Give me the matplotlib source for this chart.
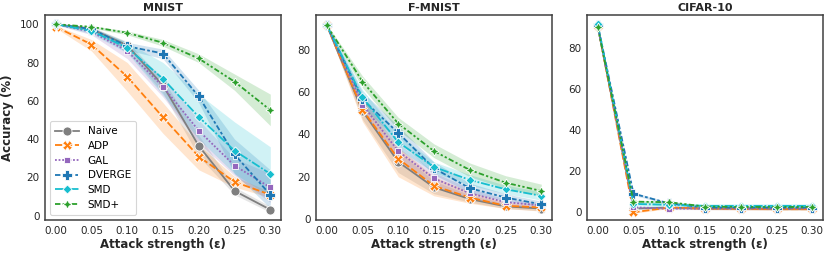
import matplotlib
matplotlib.use("Agg")
import matplotlib.pyplot as plt
import numpy as np

plt.rcParams['font.family'] = ['DejaVu Sans']

eps = [0.00, 0.05, 0.10, 0.15, 0.20, 0.25, 0.30]
methods = ["Naive", "ADP", "GAL", "DVERGE", "SMD", "SMD+"]
colors = {"Naive": "#7f7f7f", "ADP": "#ff7f0e", "GAL": "#9467bd",
          "DVERGE": "#1f77b4", "SMD": "#17becf", "SMD+": "#2ca02c"}
markers = {"Naive": "o", "ADP": "X", "GAL": (4, 0, 45), "DVERGE": "P",
           "SMD": (4, 0, 0), "SMD+": (4, 1, 0)}
dashes = {"Naive": (None, None), "ADP": (4, 1.5), "GAL": (1, 1),
          "DVERGE": (3, 1.25, 1.5, 1.25), "SMD": (5, 1, 1, 1),
          "SMD+": (3, 1.25, 1.25, 1.25, 1.25, 1.25)}

# ---------------- MNIST ----------------
mnist_mean = {
    "Naive":  [100, 97.5, 89, 68, 36.5, 13, 3.2],
    "ADP":    [98.7, 89.4, 72.6, 51.4, 30.9, 17.7, 11],
    "GAL":    [100, 96, 86, 67.4, 44.4, 26.2, 14.8],
    "DVERGE": [100, 97.5, 88.5, 84.7, 62.3, 32, 11],
    "SMD":    [100, 96.5, 87.7, 71.5, 51.6, 34, 21.9],
    "SMD+":   [100, 98.6, 95.5, 90.3, 82.1, 70, 55.2],
}
mnist_lo = {
    "Naive":  [99.5, 96.5, 86, 64, 31, 11, 1.8],
    "ADP":    [98, 86, 65, 43, 24, 15, 9.5],
    "GAL":    [99.7, 94.5, 82, 62, 38, 21, 7],
    "DVERGE": [99.8, 96.5, 86.5, 82, 59, 22, 4],
    "SMD":    [99.8, 95, 85, 63, 40, 22, 10],
    "SMD+":   [99.9, 98, 94.5, 88.5, 80, 65.5, 47],
}
mnist_hi = {
    "Naive":  [100, 98.5, 91, 71, 42, 15, 5],
    "ADP":    [99.3, 92, 80, 59, 37, 20.5, 12.5],
    "GAL":    [100, 97.5, 89, 72, 50, 30, 22],
    "DVERGE": [100, 98.5, 90.5, 87, 65.5, 40, 24],
    "SMD":    [100, 98, 90.5, 80, 63.5, 49, 36],
    "SMD+":   [100, 99.2, 96.5, 92, 84.5, 74, 63.5],
}

# ---------------- F-MNIST ----------------
fmnist_mean = {
    "Naive":  [91.5, 51, 27, 15, 9.5, 6, 5],
    "ADP":    [91.5, 51.6, 28.5, 15.7, 10.2, 6.3, 5.5],
    "GAL":    [91.5, 54, 32.1, 19.2, 12.2, 8, 6.5],
    "DVERGE": [91.5, 56.5, 40.7, 24, 14.6, 10.2, 7],
    "SMD":    [91.5, 57.4, 36.3, 24.6, 18.5, 14.1, 11],
    "SMD+":   [91.5, 64.9, 45.1, 32.1, 23.2, 17.2, 13.3],
}
fmnist_lo = {
    "Naive":  [91, 47, 22, 12, 8, 5, 4],
    "ADP":    [91, 46, 20, 11, 7.5, 5, 3.8],
    "GAL":    [91, 50, 28, 16, 10, 6.5, 5],
    "DVERGE": [91, 53, 37, 21, 12.5, 8.5, 6],
    "SMD":    [91, 54, 33, 22, 16, 12, 9],
    "SMD+":   [91, 62, 42, 29, 20, 14.5, 11],
}
fmnist_hi = {
    "Naive":  [92, 55, 32, 18, 11.5, 7.5, 6],
    "ADP":    [92, 57, 34, 20, 13, 8, 7],
    "GAL":    [92, 58, 36, 22, 14.5, 9.5, 8],
    "DVERGE": [92, 60, 44, 27, 17, 12, 8.5],
    "SMD":    [92, 61, 40, 27, 21, 16, 13],
    "SMD+":   [92, 67.5, 48, 35.5, 26.5, 20.5, 16.5],
}

# ---------------- CIFAR-10 ----------------
cifar_mean = {
    "Naive":  [91, 1.5, 2, 1.5, 1.5, 1.3, 1.3],
    "ADP":    [91, -0.3, 2, 1.5, 1.3, 1.2, 1.2],
    "GAL":    [91, 2.1, 1.5, 1.5, 1.5, 1.5, 1.5],
    "DVERGE": [91.5, 8.8, 4, 2, 2, 2, 2],
    "SMD":    [91.8, 3.8, 3.3, 2.8, 2.8, 2.8, 2.8],
    "SMD+":   [90.5, 4.9, 4.6, 2.5, 2.3, 2.3, 2.3],
}
cifar_lo = {
    "Naive":  [90.5, 1, 1.5, 1, 1, 0.8, 0.8],
    "ADP":    [90.5, -0.8, 1.5, 1, 0.8, 0.7, 0.7],
    "GAL":    [90.5, 1.5, 1, 1, 1, 1, 1],
    "DVERGE": [91, 8, 3.5, 1.5, 1.5, 1.5, 1.5],
    "SMD":    [91.3, 2.8, 2.3, 1.8, 1.8, 1.8, 1.8],
    "SMD+":   [90, 4.3, 4, 2, 1.8, 1.8, 1.8],
}
cifar_hi = {
    "Naive":  [91.5, 2, 2.5, 2, 2, 1.8, 1.8],
    "ADP":    [91.5, 0.2, 2.5, 2, 1.8, 1.7, 1.7],
    "GAL":    [91.5, 2.7, 2, 2, 2, 2, 2],
    "DVERGE": [92, 9.6, 4.5, 2.5, 2.5, 2.5, 2.5],
    "SMD":    [92.3, 4.8, 4.3, 3.8, 3.8, 3.8, 3.8],
    "SMD+":   [91, 5.5, 5.2, 3, 2.8, 2.8, 2.8],
}

titles = ["MNIST", "F-MNIST", "CIFAR-10"]
means = [mnist_mean, fmnist_mean, cifar_mean]
los = [mnist_lo, fmnist_lo, cifar_lo]
his = [mnist_hi, fmnist_hi, cifar_hi]
ylims = [(-2.2, 104.8), (-0.4, 96.3), (-4.1, 96.3)]
yticks = [[0, 20, 40, 60, 80, 100], [0, 20, 40, 60, 80], [0, 20, 40, 60, 80]]

W, H = 824, 256
fig = plt.figure(figsize=(W / 100, H / 100), dpi=100)
lefts = [45, 316, 587]
axw = 236
bottom, top = 220, 15

for i in range(3):
    ax = fig.add_axes([lefts[i] / W, 1 - bottom / H, axw / W, (bottom - top) / H])
    for m in methods:
        c = colors[m]
        ax.fill_between(eps, los[i][m], his[i][m], color=c, alpha=0.2, lw=0)
        ln, = ax.plot(eps, means[i][m], color=c, lw=1.3, marker=markers[m],
                      markersize=6.5, markeredgecolor="white", markeredgewidth=0.6,
                      label=m)
        if dashes[m][0] is not None:
            ln.set_dashes(dashes[m])
    ax.set_xlim(-0.015, 0.315)
    ax.set_ylim(*ylims[i])
    ax.set_xticks(eps)
    ax.set_xticklabels([f"{e:.2f}" for e in eps])
    ax.set_yticks(yticks[i])
    ax.tick_params(axis="both", length=0, pad=4, labelsize=7.5, colors="#262626")
    for s in ax.spines.values():
        s.set_color("#404040")
        s.set_linewidth(1.1)
    ax.set_title(titles[i], fontsize=8, fontweight="bold", pad=3, color="#262626")
    ax.set_xlabel("Attack strength (ε)", fontsize=8.5, fontweight="bold",
                  labelpad=2, color="#262626")
    if i == 0:
        ax.set_ylabel("Accuracy (%)", fontsize=8.5, fontweight="bold",
                      labelpad=4, color="#262626")
        leg = ax.legend(loc="lower left", fontsize=7.5, frameon=True,
                        handlelength=2.3, borderpad=0.5, labelspacing=0.45,
                        bbox_to_anchor=(0.0, 0.0))
        leg.get_frame().set_edgecolor("#cccccc")
        leg.get_frame().set_linewidth(0.8)

fig.savefig("out.png", dpi=100)
